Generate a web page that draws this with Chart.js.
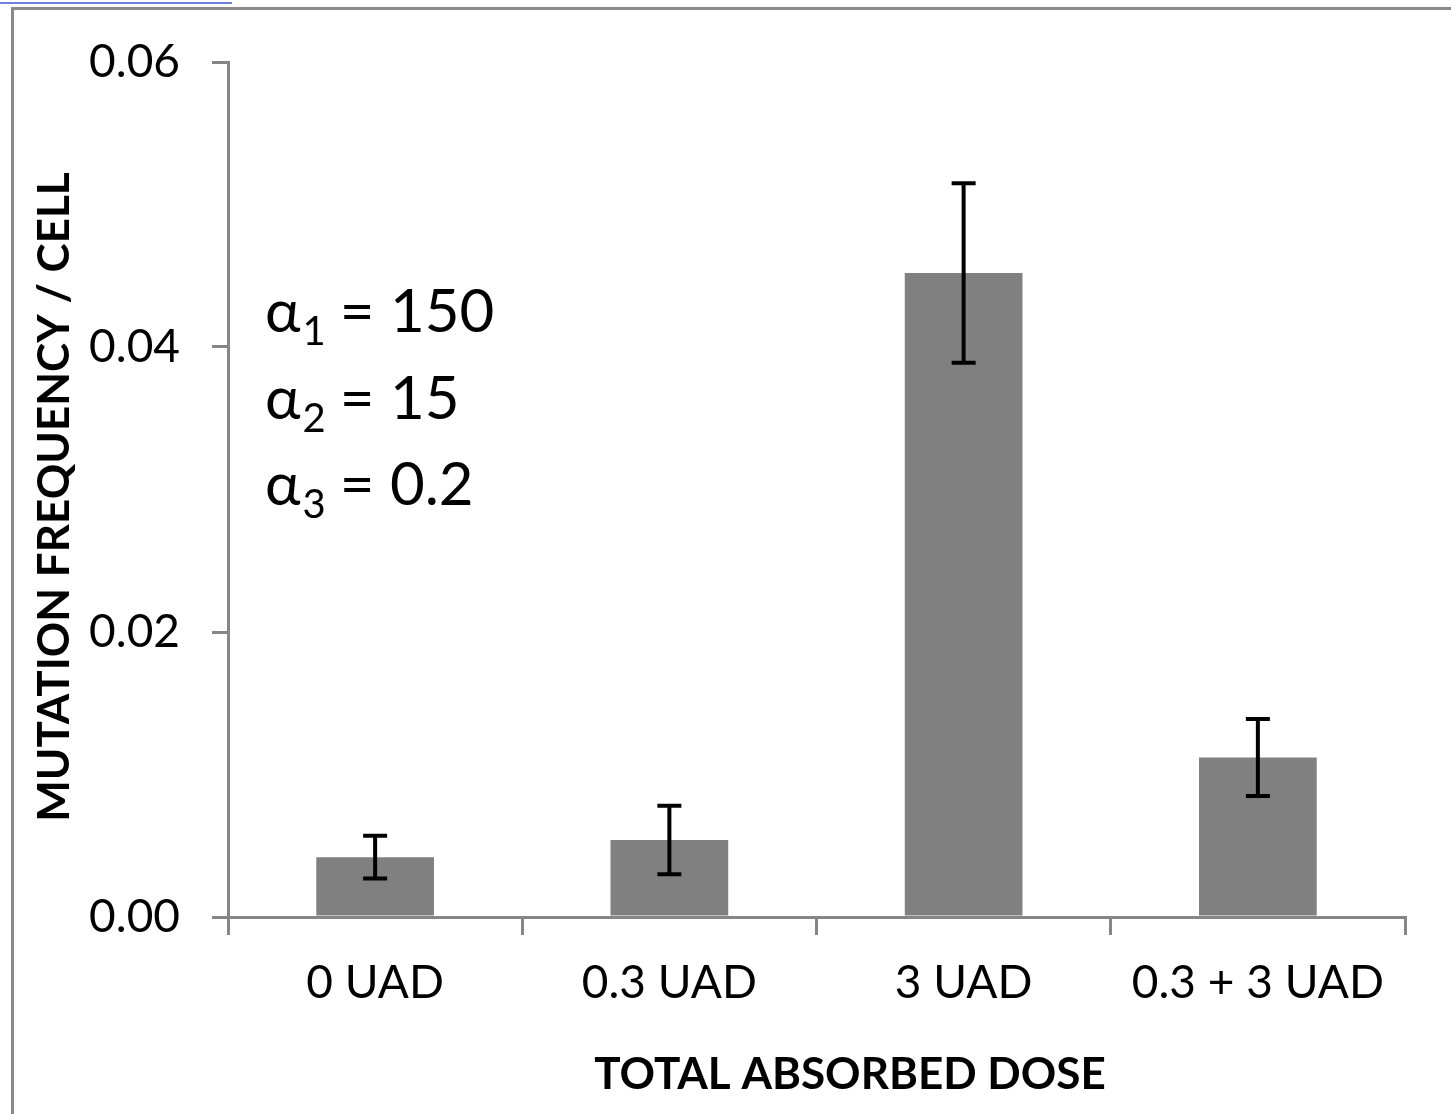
<!DOCTYPE html>
<html>
<head>
<meta charset="utf-8">
<title>Mutation frequency by absorbed dose</title>
<script src="https://cdn.jsdelivr.net/npm/chart.js@4.4.1/dist/chart.umd.min.js"></script>
<style>
  html, body { margin: 0; padding: 0; background: #fff; overflow: hidden; }
  #wrap { position: relative; width: 1451px; height: 1114px; }
  #frame { position: absolute; left: 11px; top: 7px; right: 0; bottom: 0;
           border-left: 3px solid #8a8a8a; border-top: 3px solid #8a8a8a; }
  #selbar { position: absolute; left: 0; top: 2px; width: 232px; height: 2px; background: #6f80e6; }
  canvas { position: absolute; left: 0; top: 0; }
</style>
</head>
<body>
<div id="wrap">
  <div id="selbar"></div>
  <div id="frame"></div>
  <canvas id="doseChart" width="1451" height="1114"></canvas>
</div>
<script>
// dose groups and measured mutation frequency per cell
const doses = ['0 UAD', '0.3 UAD', '3 UAD', '0.3 + 3 UAD'];
const mutationFreq = [0.0042, 0.0054, 0.0452, 0.0112];
const freqError = [0.0015, 0.0024, 0.0063, 0.0027];
const yTicks = [0, 0.02, 0.04, 0.06];
const alphaParams = [['1', '150'], ['2', '15'], ['3', '0.2']];

const AXIS_GREY = '#868686';
const FONT = 'Lato, "Open Sans", sans-serif';

// draws symmetric error bars on top of each bar
const errorBars = {
  id: 'errorBars',
  afterDatasetsDraw(chart) {
    const ctx = chart.ctx;
    const yScale = chart.scales.y;
    const meta = chart.getDatasetMeta(0);
    ctx.save();
    ctx.strokeStyle = '#000';
    ctx.lineWidth = 4;
    meta.data.forEach((bar, i) => {
      const top = yScale.getPixelForValue(mutationFreq[i] + freqError[i]);
      const bottom = yScale.getPixelForValue(mutationFreq[i] - freqError[i]);
      const x = bar.x;
      ctx.beginPath();
      ctx.moveTo(x, top); ctx.lineTo(x, bottom);
      ctx.moveTo(x - 12, top); ctx.lineTo(x + 12, top);
      ctx.moveTo(x - 12, bottom); ctx.lineTo(x + 12, bottom);
      ctx.stroke();
    });
    ctx.restore();
  }
};

// axis titles and the alpha parameter note
const chartText = {
  id: 'chartText',
  afterDraw(chart) {
    const ctx = chart.ctx;
    ctx.save();
    ctx.fillStyle = '#000';

    ctx.font = 'bold 44px ' + FONT;
    ctx.textAlign = 'center';
    ctx.textBaseline = 'middle';
    ctx.fillText('TOTAL ABSORBED DOSE', 850, 1075);

    ctx.save();
    ctx.translate(55, 497);
    ctx.rotate(-Math.PI / 2);
    ctx.fillText('MUTATION FREQUENCY / CELL', 0, 0);
    ctx.restore();

    ctx.textAlign = 'left';
    ctx.textBaseline = 'alphabetic';
    alphaParams.forEach((p, i) => {
      const base = 332 + i * 86.5;
      let x = 265;
      ctx.font = '60px ' + FONT;
      ctx.fillText('α', x, base);
      x += ctx.measureText('α').width + 2;
      ctx.font = '40px ' + FONT;
      ctx.fillText(p[0], x, base + 13);
      x += ctx.measureText(p[0]).width + 14;
      ctx.font = '60px ' + FONT;
      ctx.fillText('= ' + p[1], x, base);
    });
    ctx.restore();
  }
};

new Chart(document.getElementById('doseChart'), {
  type: 'bar',
  data: {
    labels: doses,
    datasets: [{
      data: mutationFreq,
      backgroundColor: '#808080',
      borderWidth: 0,
      barPercentage: 0.4,
      categoryPercentage: 1.0
    }]
  },
  options: {
    responsive: false,
    animation: false,
    layout: { padding: { top: 62, right: 46, bottom: 0, left: 0 } },
    plugins: {
      legend: { display: false },
      tooltip: { enabled: false }
    },
    scales: {
      x: {
        afterFit: s => { s.height = 197; },
        grid: {
          offset: true,
          drawOnChartArea: false,
          drawTicks: true,
          tickLength: 18,
          color: AXIS_GREY,
          lineWidth: 3
        },
        border: { color: AXIS_GREY, width: 3 },
        ticks: {
          color: '#000',
          padding: 21,
          font: { family: FONT, size: 46 }
        }
      },
      y: {
        min: 0,
        max: 0.06,
        afterFit: s => { s.width = 228; },
        afterBuildTicks: s => { s.ticks = yTicks.map(v => ({ value: v })); },
        grid: {
          drawOnChartArea: false,
          drawTicks: true,
          tickLength: 16,
          color: AXIS_GREY,
          lineWidth: 3
        },
        border: { color: AXIS_GREY, width: 3 },
        ticks: {
          color: '#000',
          padding: 32,
          font: { family: FONT, size: 46 },
          callback: v => v.toFixed(2)
        }
      }
    }
  },
  plugins: [errorBars, chartText]
});
</script>
</body>
</html>
